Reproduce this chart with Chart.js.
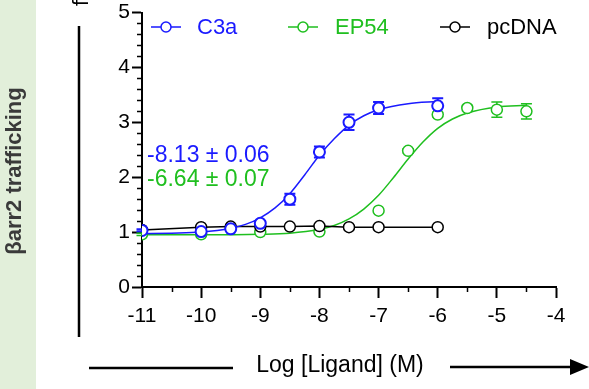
<!DOCTYPE html>
<html>
<head>
<meta charset="utf-8">
<script src="https://cdn.jsdelivr.net/npm/chart.js@4.4.1/dist/chart.umd.min.js"></script>
<style>
  html, body { margin: 0; padding: 0; background: #fff; }
  #wrap { width: 589px; height: 389px; position: relative; }
</style>
</head>
<body>
<div id="wrap"><canvas id="chart"></canvas></div>
<script>
// measured points (log M vs fold change)
const c3aX = [-11, -10, -9.5, -9, -8.5, -8, -7.5, -7, -6];
const c3aY = [1.03, 1.01, 1.06, 1.16, 1.60, 2.46, 3.00, 3.26, 3.30];
const c3aErr = [0.02, 0.02, 0.03, 0.04, 0.10, 0.10, 0.14, 0.11, 0.14];

const ep54X = [-11, -10, -9, -8, -7, -6.5, -6, -5.5, -5, -4.5];
const ep54Y = [0.96, 0.96, 1.00, 1.01, 1.39, 2.48, 3.14, 3.26, 3.23, 3.20];
const ep54Err = [0.02, 0.02, 0.02, 0.02, 0.03, 0.04, 0.04, 0.05, 0.14, 0.14];

const pcX = [-11, -10, -9.5, -9, -8.5, -8, -7.5, -7, -6];
const pcY = [1.04, 1.09, 1.10, 1.10, 1.10, 1.11, 1.09, 1.09, 1.09];

// fitted curves
const c3aFitX = [-11, -10.5, -10, -9.5, -9.25, -9, -8.75, -8.5, -8.25, -8, -7.75, -7.5, -7.25, -7, -6.5, -6];
const c3aFitY = [0.97, 0.98, 1.00, 1.07, 1.14, 1.26, 1.44, 1.70, 2.04, 2.40, 2.70, 2.95, 3.12, 3.23, 3.34, 3.38];
const ep54FitX = [-11, -10, -9, -8.5, -8, -7.75, -7.5, -7.25, -7, -6.75, -6.5, -6.25, -6, -5.75, -5.5, -5, -4.5];
const ep54FitY = [0.95, 0.95, 0.96, 0.98, 1.05, 1.12, 1.24, 1.42, 1.67, 1.99, 2.33, 2.64, 2.89, 3.06, 3.17, 3.28, 3.31];

const xTicks = [-11, -10, -9, -8, -7, -6, -5, -4];
const yTicks = [0, 1, 2, 3, 4, 5];

const BLUE = '#1a1aff';
const GREEN = '#1fbf1f';
const BLACK = '#000000';
const FONT = '"Liberation Sans", Arial, sans-serif';

const pts = (xs, ys) => xs.map((x, i) => ({ x: x, y: ys[i] }));

const errorSets = [
  { xs: c3aX, ys: c3aY, err: c3aErr, color: BLUE, width: 2 },
  { xs: ep54X, ys: ep54Y, err: ep54Err, color: GREEN, width: 1.5 }
];

const decor = {
  id: 'decor',
  beforeDraw(chart) {
    const c = chart.ctx;
    c.save();
    // left label panel
    c.fillStyle = '#e2efda';
    c.fillRect(0, 0, 36, chart.height);
    c.save();
    c.translate(15, 171);
    c.rotate(-Math.PI / 2);
    c.font = 'bold 22px ' + FONT;
    c.fillStyle = '#3a3a3a';
    c.textAlign = 'center';
    c.textBaseline = 'middle';
    c.fillText('βarr2 trafficking', 0, 0);
    c.restore();
    // clipped y title
    c.save();
    c.translate(88, 6);
    c.rotate(-Math.PI / 2);
    c.font = '22px ' + FONT;
    c.fillStyle = BLACK;
    c.textAlign = 'left';
    c.textBaseline = 'alphabetic';
    c.fillText('fold change', 0, 0);
    c.restore();
    // vertical bar
    c.strokeStyle = BLACK;
    c.lineWidth = 2.5;
    c.beginPath();
    c.moveTo(79, 26);
    c.lineTo(79, 337);
    c.stroke();
    // x title with arrow
    c.beginPath();
    c.moveTo(89, 368);
    c.lineTo(233, 368);
    c.moveTo(450, 367);
    c.lineTo(572, 367);
    c.stroke();
    c.fillStyle = BLACK;
    c.beginPath();
    c.moveTo(570, 359);
    c.lineTo(589, 367);
    c.lineTo(570, 375);
    c.closePath();
    c.fill();
    c.font = '23px ' + FONT;
    c.textAlign = 'center';
    c.textBaseline = 'middle';
    c.fillText('Log [Ligand] (M)', 340, 366);
    c.restore();
  },
  beforeDatasetsDraw(chart) {
    const c = chart.ctx;
    const xs = chart.scales.x, ys = chart.scales.y;
    c.save();
    errorSets.forEach(s => {
      c.strokeStyle = s.color;
      c.lineWidth = s.width;
      s.xs.forEach((x, i) => {
        const px = xs.getPixelForValue(x);
        const top = ys.getPixelForValue(s.ys[i] + s.err[i]);
        const bot = ys.getPixelForValue(s.ys[i] - s.err[i]);
        c.beginPath();
        c.moveTo(px, top); c.lineTo(px, bot);
        c.moveTo(px - 5.5, top); c.lineTo(px + 5.5, top);
        c.moveTo(px - 5.5, bot); c.lineTo(px + 5.5, bot);
        c.stroke();
      });
    });
    c.restore();
  },
  afterDraw(chart) {
    const c = chart.ctx;
    const xs = chart.scales.x, ys = chart.scales.y;
    const a = chart.chartArea;
    c.save();
    c.strokeStyle = BLACK;
    c.lineWidth = 1.5;
    // minor ticks
    c.beginPath();
    for (let v = 0.2; v < 5; v += 0.2) {
      if (Math.abs(v - Math.round(v)) < 0.01) continue;
      const py = Math.round(ys.getPixelForValue(v)) + 0.5;
      c.moveTo(a.left - 5, py); c.lineTo(a.left, py);
    }
    for (let v = -10.5; v < -4; v += 1) {
      const px = Math.round(xs.getPixelForValue(v)) + 0.5;
      c.moveTo(px, a.bottom); c.lineTo(px, a.bottom + 5);
    }
    c.stroke();
    // legend
    const items = [
      { label: chart.data.datasets[0].label, color: BLUE, x0: 151, x1: 181, tx: 197 },
      { label: chart.data.datasets[2].label, color: GREEN, x0: 288, x1: 318, tx: 335 },
      { label: chart.data.datasets[4].label, color: BLACK, x0: 440, x1: 470, tx: 487 }
    ];
    c.font = '22px ' + FONT;
    c.textBaseline = 'middle';
    c.textAlign = 'left';
    items.forEach(it => {
      const cy = 27;
      const cx = (it.x0 + it.x1) / 2;
      c.strokeStyle = it.color;
      c.lineWidth = 1.5;
      c.beginPath();
      c.moveTo(it.x0, cy); c.lineTo(cx - 5, cy);
      c.moveTo(cx + 5, cy); c.lineTo(it.x1, cy);
      c.stroke();
      c.beginPath();
      c.arc(cx, cy, 5, 0, Math.PI * 2);
      c.fillStyle = '#fff';
      c.fill();
      c.stroke();
      c.fillStyle = it.color;
      c.fillText(it.label, it.tx, cy + 1);
    });
    // potency annotations
    c.font = '23px ' + FONT;
    c.fillStyle = BLUE;
    c.fillText('-8.13 ± 0.06', 147, 156);
    c.fillStyle = GREEN;
    c.fillText('-6.64 ± 0.07', 147, 180);
    c.restore();
  }
};

new Chart(document.getElementById('chart'), {
  type: 'scatter',
  data: {
    datasets: [
      {
        label: 'C3a', data: pts(c3aX, c3aY), showLine: false, order: 0,
        pointRadius: 5.5, pointBorderWidth: 2, borderColor: BLUE, backgroundColor: '#fff'
      },
      {
        label: 'C3a fit', data: pts(c3aFitX, c3aFitY), showLine: true, order: 1,
        pointRadius: 0, borderColor: BLUE, borderWidth: 1.5, cubicInterpolationMode: 'monotone'
      },
      {
        label: 'EP54', data: pts(ep54X, ep54Y), showLine: false, order: 3,
        pointRadius: 5.5, pointBorderWidth: 1.5, borderColor: GREEN, backgroundColor: '#fff'
      },
      {
        label: 'EP54 fit', data: pts(ep54FitX, ep54FitY), showLine: true, order: 4,
        pointRadius: 0, borderColor: GREEN, borderWidth: 1.5, cubicInterpolationMode: 'monotone'
      },
      {
        label: 'pcDNA', data: pts(pcX, pcY), showLine: true, order: 2,
        pointRadius: 5.5, pointBorderWidth: 1.5, borderColor: BLACK, borderWidth: 1.5,
        backgroundColor: '#fff'
      }
    ]
  },
  options: {
    responsive: true,
    maintainAspectRatio: false,
    animation: false,
    layout: { padding: { left: 82, right: 33, top: 11, bottom: 62 } },
    plugins: { legend: { display: false }, tooltip: { enabled: false } },
    scales: {
      x: {
        type: 'linear', min: -11, max: -4,
        afterFit: s => { s.height = 40; },
        afterBuildTicks: s => { s.ticks = xTicks.map(v => ({ value: v })); },
        border: { color: BLACK, width: 2 },
        grid: { drawOnChartArea: false, tickLength: 11, tickColor: BLACK, tickWidth: 2 },
        ticks: { color: BLACK, padding: 8, font: { family: FONT, size: 21, lineHeight: 1 } }
      },
      y: {
        min: 0, max: 5,
        afterFit: s => { s.width = 60; },
        afterBuildTicks: s => { s.ticks = yTicks.map(v => ({ value: v })); },
        border: { color: BLACK, width: 2 },
        grid: { drawOnChartArea: false, tickLength: 10, tickColor: BLACK, tickWidth: 2 },
        ticks: { color: BLACK, padding: 2, font: { family: FONT, size: 21, lineHeight: 1 } }
      }
    }
  },
  plugins: [decor]
});
</script>
</body>
</html>
